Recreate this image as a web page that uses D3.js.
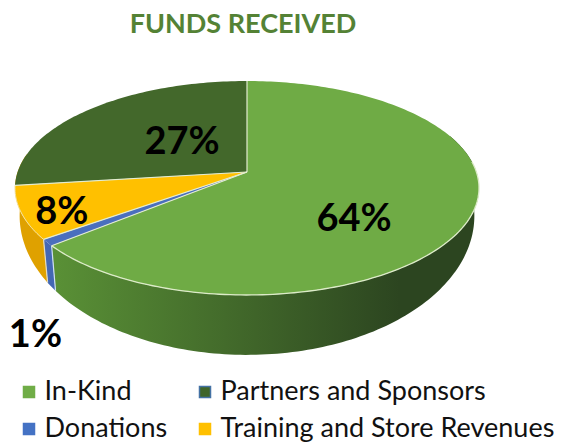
<!DOCTYPE html>
<html>
<head>
<meta charset="utf-8">
<script src="https://cdn.jsdelivr.net/npm/d3@7"></script>
<style>
  html, body { margin: 0; padding: 0; background: #fff; }
  text { font-family: Lato, "Open Sans", sans-serif; }
</style>
</head>
<body>
<div id="chart"></div>
<script>
// the data
var categories = ['In-Kind', 'Donations', 'Training and Store Revenues', 'Partners and Sponsors'];
var values = [64, 1, 8, 27];
var labelText = ['64%', '1%', '8%', '27%'];
var legendOrder = ['In-Kind', 'Partners and Sponsors', 'Donations', 'Training and Store Revenues'];

var topColors = ['#6fab45', '#4a6fbe', '#ffc000', '#43682b'];
var wallLeft = ['#5a9136', '#4468b4', '#dfa100', '#43682b'];
var wallRight = ['#2c4520', '#4468b4', '#c99000', '#2c4520'];
var swatchFill = ['#70ad47', '#3f6529', '#4472c4', '#ffc000'];
var swatchStroke = ['#70ad47', '#4472a4', '#4472c4', '#ffc000'];

var width = 562,
    height = 442,
    cx = 247,
    cy = 172,
    rimX = 229.4,
    rimY = 104.6,
    persp = 0.1495,
    depth = 23,
    bottomX = 0.98,
    bottomY = 1.3,
    frontStart = 1.2,
    frontEnd = 4.89;

var svg = d3.select('#chart')
  .append('svg')
  .attr('width', width)
  .attr('height', height)
  .style('display', 'block')
  .style('background', '#fff');

var defs = svg.append('defs');

// pie angles from d3, then pushed through a small perspective projection
var pie = d3.pie().sort(null).value(function (d) { return d; });
var slices = pie(values);

function project(angle, radius, level) {
  var u = Math.sin(angle) * radius,
      v = -Math.cos(angle) * radius,
      w = 1 - persp * v;
  return [cx + (level ? bottomX : 1) * rimX * u / w,
          cy + (level ? depth : 0) + (level ? bottomY : 1) * rimY * v / w];
}

function rimPoints(d, level) {
  var n = Math.max(2, Math.ceil((d.endAngle - d.startAngle) / 0.02));
  return d3.range(n + 1).map(function (i) {
    return project(d.startAngle + (d.endAngle - d.startAngle) * i / n, 1, level);
  });
}

var line = d3.line();

slices.forEach(function (d, i) {
  var grad = defs.append('linearGradient')
    .attr('id', 'wall' + i)
    .attr('gradientUnits', 'userSpaceOnUse')
    .attr('x1', 50).attr('x2', 400).attr('y1', 0).attr('y2', 0);
  grad.append('stop').attr('offset', 0).attr('stop-color', wallLeft[i]);
  grad.append('stop').attr('offset', 1).attr('stop-color', wallRight[i]);
});

// side walls go first, only the front ones show. the yellow one runs on to the left edge
var wallSlices = slices.slice(0, 3).map(function (d, i) {
  return {
    index: i,
    startAngle: Math.max(d.startAngle, frontStart),
    endAngle: i === 2 ? frontEnd : d.endAngle
  };
});

svg.append('g').selectAll('path').data(wallSlices)
  .enter().append('path')
  .attr('fill', function (d) { return 'url(#wall' + d.index + ')'; })
  .attr('d', function (d) {
    return line(rimPoints(d, 0).concat(rimPoints(d, 1).reverse())) + 'Z';
  });

// pale edges on the donations wall
[slices[1].startAngle, slices[1].endAngle].forEach(function (a, i) {
  svg.append('path')
    .attr('fill', 'none')
    .attr('stroke', i ? '#e3dcc0' : '#cfe0f2')
    .attr('stroke-width', 1.2)
    .attr('d', line([project(a, 1, 0), project(a, 1, 1)]));
});

svg.append('g').selectAll('path').data(slices)
  .enter().append('path')
  .attr('fill', function (d, i) { return topColors[i]; })
  .attr('d', function (d) {
    return line([project(0, 0, 0)].concat(rimPoints(d, 0))) + 'Z';
  });

// highlight along the front rim and the slice edges
svg.append('path')
  .attr('fill', 'none')
  .attr('stroke', '#dcebc8')
  .attr('stroke-width', 1.3)
  .attr('d', line(rimPoints({startAngle: Math.PI / 2 - 0.1, endAngle: slices[0].endAngle}, 0)));

svg.append('path')
  .attr('fill', 'none')
  .attr('stroke', '#f4e3a0')
  .attr('stroke-width', 1)
  .attr('d', line(rimPoints(slices[2], 0)));

[0, slices[0].endAngle, slices[1].endAngle, slices[2].endAngle].forEach(function (a) {
  svg.append('path')
    .attr('fill', 'none')
    .attr('stroke', '#e3ecd0')
    .attr('stroke-width', 1.2)
    .attr('d', line([project(0, 0, 0), project(a, 1, 0)]));
});

// title
svg.append('text')
  .attr('x', 243)
  .attr('y', 33)
  .attr('text-anchor', 'middle')
  .attr('font-size', 27)
  .attr('font-weight', 700)
  .attr('fill', '#548235')
  .text('FUNDS RECEIVED');

// percent labels, each pulled along its own slice
var labelAnchor = [
  {r: 0.52, dx: -4.5, dy: 22},
  {r: 1, dx: -12, dy: 91},
  {r: 0.68, dx: -34.5, dy: 12},
  {r: 0.58, dx: 29.5, dy: 7}
];

svg.append('g').selectAll('text').data(slices)
  .enter().append('text')
  .attr('text-anchor', 'middle')
  .attr('font-size', 38)
  .attr('font-weight', 700)
  .attr('fill', '#000')
  .attr('x', function (d, i) {
    return project((d.startAngle + d.endAngle) / 2, labelAnchor[i].r, 0)[0] + labelAnchor[i].dx;
  })
  .attr('y', function (d, i) {
    return project((d.startAngle + d.endAngle) / 2, labelAnchor[i].r, 0)[1] + labelAnchor[i].dy + 13;
  })
  .text(function (d, i) { return labelText[i]; });

// legend, two columns by two rows
var colScale = d3.scalePoint().domain([0, 1]).range([23, 199]);
var rowScale = d3.scalePoint().domain([0, 1]).range([392, 429]);

var legend = svg.append('g').selectAll('g').data(legendOrder)
  .enter().append('g')
  .attr('transform', function (d, i) {
    return 'translate(' + colScale(i % 2) + ',' + rowScale(Math.floor(i / 2)) + ')';
  });

legend.append('rect')
  .attr('x', 0.5)
  .attr('y', -5.5)
  .attr('width', 11)
  .attr('height', 11)
  .attr('stroke-width', 1.5)
  .attr('fill', function (d, i) { return swatchFill[i]; })
  .attr('stroke', function (d, i) { return swatchStroke[i]; });

legend.append('text')
  .attr('x', 21.5)
  .attr('y', 8)
  .attr('font-size', 27)
  .attr('fill', '#111')
  .text(function (d) { return d; });
</script>
</body>
</html>
